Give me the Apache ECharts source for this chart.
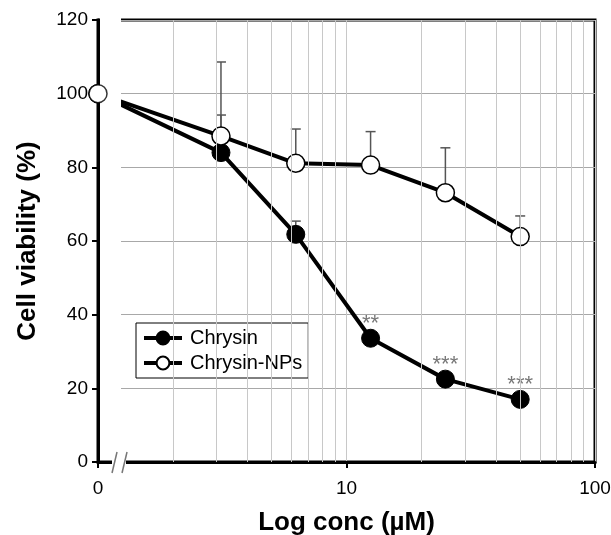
<!DOCTYPE html>
<html><head><meta charset="utf-8">
<script src="https://cdn.jsdelivr.net/npm/echarts@6/dist/echarts.min.js"></script>
<style>html,body{margin:0;padding:0;background:#fff}#c{width:611px;height:535px}</style>
</head><body><div id="c"></div>
<script>
// concentration (µM); the first point (1 on the log axis) is the "0" control
const conc = [1, 3.125, 6.25, 12.5, 25, 50];
const chrysin = [100, 84.0, 61.8, 33.6, 22.5, 17.0];
const chrysinNP = [100, 88.5, 81.1, 80.6, 73.1, 61.2];
const chrysinErrTop = [null, 94.2, 65.4, null, null, null];
const chrysinNPErrTop = [null, 108.6, 90.4, 89.7, 85.3, 66.8];
const sigConc = [12.5, 25, 50];
const sigLabel = ['**', '***', '***'];
const xTickLabels = {1: '0', 10: '10', 100: '100'};
const minorGrid = [2, 3, 4, 5, 6, 7, 8, 9, 20, 30, 40, 50, 60, 70, 80, 90];
const breakAt = 1.215;

const FONT = '"Liberation Sans", Arial, sans-serif';
const chart = echarts.init(document.getElementById('c'));

function errData(vals, tops) {
  const out = [];
  conc.forEach((c, i) => { if (tops[i] != null) out.push([c, vals[i], tops[i]]); });
  return out;
}
function errRender(params, api) {
  const x = api.value(0), m = api.value(1), t = api.value(2);
  const p0 = api.coord([x, m]), p1 = api.coord([x, t]);
  const st = {stroke: '#555', lineWidth: 1.5};
  return {type: 'group', children: [
    {type: 'line', shape: {x1: p0[0], y1: p0[1], x2: p1[0], y2: p1[1]}, style: st},
    {type: 'line', shape: {x1: p1[0] - 5, y1: p1[1], x2: p1[0] + 5, y2: p1[1]}, style: st}
  ]};
}

chart.setOption({
  animation: false,
  textStyle: {fontFamily: FONT},
  grid: {left: 98, right: 16, top: 20, bottom: 73, outerBoundsMode: 'none', containLabel: false,
    show: true, borderColor: '#000', borderWidth: 3, backgroundColor: 'transparent'},
  legend: {
    data: ['Chrysin', 'Chrysin-NPs'],
    orient: 'vertical', left: 136, top: 323,
    itemWidth: 38, itemHeight: 16, itemGap: 5,
    borderColor: '#000', borderWidth: 1, padding: [5, 6, 5, 6],
    backgroundColor: '#fff',
    lineStyle: {width: 4, color: '#000'},
    textStyle: {fontSize: 20, color: '#000', fontFamily: FONT, padding: [0, 0, 0, 3]}
  },
  xAxis: {
    type: 'log', logBase: 10, min: 1, max: 100,
    name: 'Log conc (µM)', nameLocation: 'middle', nameGap: 48,
    nameTextStyle: {fontSize: 26, fontWeight: 'bold', color: '#000', fontFamily: FONT},
    axisLine: {lineStyle: {color: '#000', width: 3}},
    axisTick: {show: true, length: 6, lineStyle: {color: '#000', width: 2}},
    axisLabel: {fontSize: 19, color: '#000', margin: 17, fontFamily: FONT, showMinLabel: true, showMaxLabel: true,
      formatter: v => xTickLabels[Math.round(v)] || ''},
    splitLine: {show: true, lineStyle: {color: '#c8c8c8', width: 1}}
  },
  yAxis: {
    type: 'value', min: 0, max: 120, interval: 20,
    name: 'Cell viability (%)', nameLocation: 'middle', nameGap: 57,
    nameTextStyle: {fontSize: 26, fontWeight: 'bold', color: '#000', fontFamily: FONT},
    axisLine: {show: true, lineStyle: {color: '#000', width: 3}},
    axisTick: {show: true, length: 6, lineStyle: {color: '#000', width: 2}},
    axisLabel: {fontSize: 19, color: '#000', margin: 10, fontFamily: FONT},
    splitLine: {show: true, lineStyle: {color: '#a8a8a8', width: 1}}
  },
  series: [
    {
      name: '_minor', type: 'line', data: [], z: 1, silent: true,
      markLine: {silent: true, symbol: 'none', label: {show: false},
        lineStyle: {color: '#c8c8c8', width: 1, type: 'solid'},
        data: minorGrid.map(v => ({xAxis: v}))}
    },
    {
      name: '_errC', type: 'custom', z: 2, renderItem: errRender,
      data: errData(chrysin, chrysinErrTop), encode: {x: 0, y: [1, 2]}
    },
    {
      name: '_errN', type: 'custom', z: 2, renderItem: errRender,
      data: errData(chrysinNP, chrysinNPErrTop), encode: {x: 0, y: [1, 2]}
    },
    {
      name: 'Chrysin', type: 'line', z: 2,
      data: conc.map((c, i) => [c, chrysin[i]]),
      symbol: 'circle', symbolSize: 18,
      itemStyle: {color: '#000', borderColor: '#000', borderWidth: 1},
      lineStyle: {color: '#000', width: 4}
    },
    {
      name: 'Chrysin-NPs', type: 'line', z: 2,
      data: conc.map((c, i) => [c, chrysinNP[i]]),
      symbol: 'circle', symbolSize: 18,
      itemStyle: {color: '#fff', borderColor: '#000', borderWidth: 1.5},
      lineStyle: {color: '#000', width: 4}
    },
    {
      name: '_zero', type: 'scatter', z: 5,
      data: [[conc[0], chrysinNP[0]]],
      symbol: 'circle', symbolSize: 18,
      itemStyle: {color: '#fff', borderColor: '#000', borderWidth: 1.5}
    },
    {
      name: '_sig', type: 'scatter', z: 4,
      data: sigConc.map((c, i) => [c, chrysin[conc.indexOf(c)], sigLabel[i]]),
      symbolSize: 1, itemStyle: {color: 'rgba(0,0,0,0)'},
      label: {show: true, position: 'top', distance: 3, fontSize: 22, color: '#555', fontFamily: FONT,
        formatter: p => p.data[2]}
    }
  ]
});

// axis break: blank the strip between the "0" control and the log axis, draw "//"
const p0 = chart.convertToPixel({gridIndex: 0}, [conc[0], 0]);
const pb = chart.convertToPixel({gridIndex: 0}, [breakAt, 120]);
const bx = pb[0];
chart.setOption({
  graphic: [
    {type: 'rect', z: 3, shape: {x: p0[0] + 2, y: pb[1] - 4, width: bx + 2 - (p0[0] + 2), height: p0[1] - 2 - (pb[1] - 4)}, style: {fill: '#fff'}},
    {type: 'rect', z: 3, shape: {x: bx - 7, y: p0[1] - 3, width: 14, height: 6}, style: {fill: '#fff'}},
    {type: 'line', z: 4, shape: {x1: bx - 7, y1: p0[1] + 11, x2: bx - 2, y2: p0[1] - 10}, style: {stroke: '#777', lineWidth: 1.5}},
    {type: 'line', z: 4, shape: {x1: bx + 3, y1: p0[1] + 11, x2: bx + 8, y2: p0[1] - 10}, style: {stroke: '#777', lineWidth: 1.5}}
  ]
});
</script>
</body></html>
